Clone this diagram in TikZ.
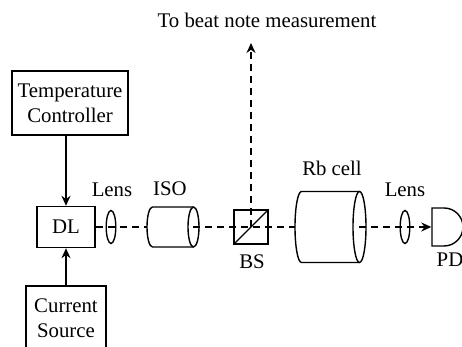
\documentclass[tikz,border=0pt]{standalone}
\usepackage{fontspec}
\setmainfont{Liberation Serif}
\usetikzlibrary{arrows.meta,shapes.geometric}

\tikzset{
	box/.style={draw,rectangle,align=center,inner sep=0pt},
	lens/.style={draw,ellipse,minimum width=4.8pt,minimum height=16.5pt,inner sep=0pt},
	beam/.style={dash pattern=on 3.5pt off 2.5pt},
	tip/.style={-{Stealth[length=5pt,width=4.5pt]}}
}

\begin{document}
\begin{tikzpicture}[x=0.5pt,y=0.5pt,line width=0.7pt,font=\fontsize{10.4}{12.5}\selectfont]
	\useasboundingbox (0,0) rectangle (462,347);
	\clip (0,0) rectangle (462,347);
	
	% sources
	\node (DL) [box,minimum width=29pt,minimum height=20.5pt] at (66,120) {DL};
	\node (TC) [box,minimum width=58pt,minimum height=32pt] at (70,244) {Temperature\\Controller};
	\node (CS) [box,minimum width=40pt,minimum height=32pt] at (66,29) {Current\\Source};
	\draw [tip] (DL.north |- TC.south) -- (DL.north);
	\draw [tip] (DL.south |- CS.north) -- (DL.south);
	
	% optics
	\node (L1) [lens] at (111,120) {};
	\node (BS) [box,minimum width=17pt,minimum height=17pt] at (251,120) {};
	\draw (BS.south west) -- (BS.north east);
	\node (L2) [lens] at (405,120) {};
	\coordinate (isoin) at (147,120);
	\coordinate (isoout) at (193.5,120);
	\coordinate (rbin) at (295,120);
	\coordinate (rbout) at (359.5,120);
	\coordinate (beat) at (251,304);
	
	% isolator
	\draw (193.5,140) -- (152.5,140) arc[start angle=90,end angle=270,x radius=2.75pt,y radius=10pt] -- (193.5,100);
	\draw (isoout) ellipse [x radius=2.75pt,y radius=10pt];
	% Rb cell
	\draw (359.5,155.5) -- (301.5,155.5) arc[start angle=90,end angle=270,x radius=3.25pt,y radius=17.75pt] -- (359.5,84.5);
	\draw (rbout) ellipse [x radius=3.25pt,y radius=17.75pt];
	
	% photodiode
	\node (PD) [inner sep=0pt,minimum width=0pt,minimum height=19pt] at (432,120) {};
	\draw (432,101) -- (432,139) -- (444,139) arc[start angle=90,end angle=-90,radius=9.5pt] -- cycle;
	
	% beam
	\draw [beam] (DL.east) -- (isoin);
	\draw [beam] (isoout) -- (rbin);
	\draw [beam,tip] (rbout) -- (PD.west);
	\draw [beam,tip] (BS.center) -- (beat);
	
	% labels
	\node (tL1) at (112,157) {Lens};
	\node (tISO) at (170,158) {ISO};
	\node (tBS) at (252,85) {BS};
	\node (tRb) at (332,179) {Rb cell};
	\node (tL2) at (405,157) {Lens};
	\node (tPD) at (450,87) {PD};
	\node (tbeat) at (267,327) {To beat note measurement};
\end{tikzpicture}
\end{document}
